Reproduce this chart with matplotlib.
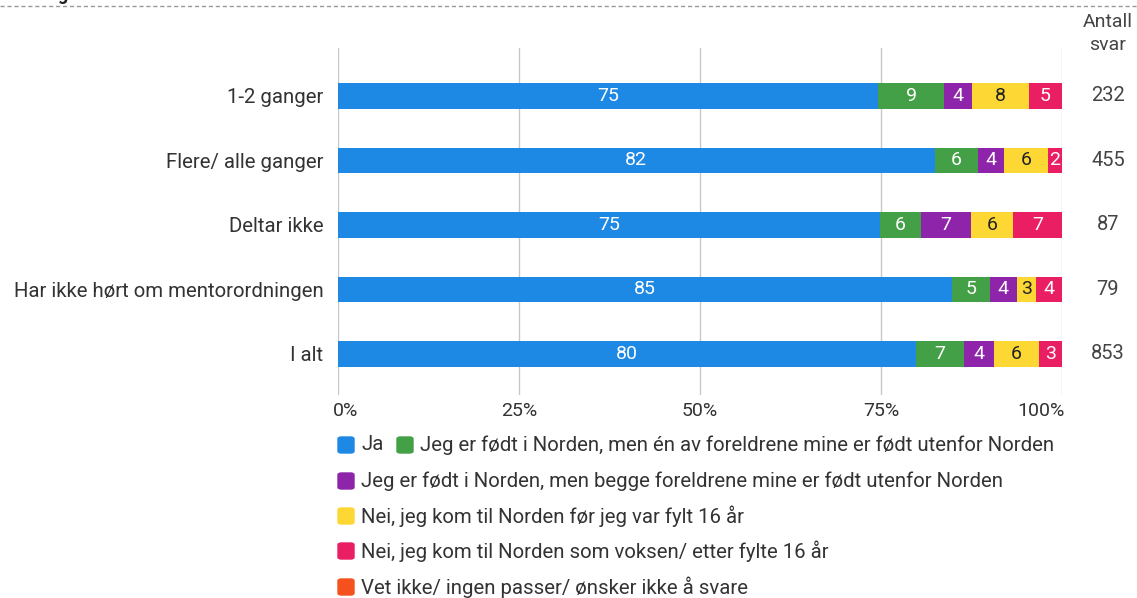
import numpy as np
import matplotlib
matplotlib.use("Agg")
import matplotlib.pyplot as plt
from matplotlib.patches import FancyBboxPatch
from matplotlib.lines import Line2D
from matplotlib.transforms import blended_transform_factory

plt.rcParams['font.family'] = ['Roboto', 'DejaVu Sans']

# data (percent of answers)
groups = ["1-2 ganger", "Flere/ alle ganger", "Deltar ikke",
          "Har ikke hørt om mentorordningen", "I alt"]
series_names = ["Ja",
                "Jeg er født i Norden, men én av foreldrene mine er født utenfor Norden",
                "Jeg er født i Norden, men begge foreldrene mine er født utenfor Norden",
                "Nei, jeg kom til Norden før jeg var fylt 16 år",
                "Nei, jeg kom til Norden som voksen/ etter fylte 16 år",
                "Vet ikke/ ingen passer/ ønsker ikke å svare"]
ja = [74.6, 82.4, 74.8, 84.8, 79.8]
en_forelder = [9.1, 6.0, 5.7, 5.2, 6.7]
begge_foreldre = [3.9, 3.6, 6.9, 3.8, 4.1]
for_16 = [7.8, 6.1, 5.8, 2.6, 6.2]
etter_16 = [4.6, 1.9, 6.9, 3.7, 3.3]
vet_ikke = [0, 0, 0, 0, 0]
antall_svar = [232, 455, 87, 79, 853]
xticks = [0, 25, 50, 75, 100]

colors = ["#1e88e5", "#43a047", "#8e24aa", "#fdd835", "#e91e63", "#f4511e"]
txt_colors = ["white", "white", "white", "#222222", "white", "white"]

W, H = 1137, 598
fig = plt.figure(figsize=(W / 100, H / 100), dpi=100)
ax = fig.add_axes([338 / W, 1 - 395 / H, (1062 - 338) / W, (395 - 48) / H])

series = [ja, en_forelder, begge_foreldre, for_16, etter_16, vet_ikke]
y = np.arange(len(groups))
left = np.zeros(len(groups))
for vals, col, tc in zip(series, colors, txt_colors):
    vals = np.array(vals, dtype=float)
    ax.barh(y, vals, left=left, height=0.39, color=col, zorder=3)
    for yi, l, v in zip(y, left, vals):
        if v > 0:
            ax.text(l + v / 2, yi, f"{v:.0f}", ha='center', va='center',
                    color=tc, fontsize=14, zorder=4)
    left += vals

ax.set_xlim(0, 100)
ax.set_ylim(4.636, -0.744)
for s in ax.spines.values():
    s.set_visible(False)
ax.set_xticks(xticks)
ax.set_xticklabels([])
ax.tick_params(length=0)
ax.grid(axis='x', color='#c8c8c8', lw=1, zorder=0)
ax.set_yticks(y)
ax.set_yticklabels(groups, fontsize=14.7, color='#333333')
ax.tick_params(axis='y', pad=10.5)

# x tick labels (outer ones pulled inside like the original)
for t in xticks:
    ha = 'left' if t == 0 else ('right' if t == 100 else 'center')
    xx = -0.7 if t == 0 else (100.4 if t == 100 else t)
    ax.text(xx, -0.046, f"{t}%", transform=ax.get_xaxis_transform(),
            ha=ha, va='center', fontsize=14, color='#333333')

# number of answers column
trans = blended_transform_factory(fig.transFigure, ax.transData)
for yi, n in zip(y, antall_svar):
    ax.text(1108 / W, yi, str(n), transform=trans,
            ha='center', va='center', fontsize=14.5, color='#444444')
fig.text(1108 / W, 1 - 22 / H, "Antall", ha='center', va='center', fontsize=14, color='#444444')
fig.text(1108 / W, 1 - 45 / H, "svar", ha='center', va='center', fontsize=14, color='#444444')

# legend, drawn by hand
rows = [(337, 445, 0), (396, 445, 1), (337, 481, 2), (337, 516, 3), (337, 551, 4), (337, 587, 5)]
for x0, yc, i in rows:
    fig.patches.append(FancyBboxPatch(((x0 + 1) / W, 1 - (yc + 8) / H), 16 / W, 16 / H,
                                      boxstyle="round,pad=0,rounding_size=0.003",
                                      transform=fig.transFigure, color=colors[i]))
    fig.text((x0 + 24) / W, 1 - yc / H, series_names[i], ha='left', va='center',
             fontsize=14.7, color='#333333')

# dashed separator line on top and the cut off letter above it
fig.add_artist(Line2D([0, 1], [1 - 6 / H, 1 - 6 / H], transform=fig.transFigure,
                      color='#999999', lw=1, ls=(0, (3, 2))))
fig.text(57 / W, 1.0, "g", ha='left', va='baseline', fontsize=13, fontweight='bold', color='#222222')

fig.savefig("out.png", dpi=100)
